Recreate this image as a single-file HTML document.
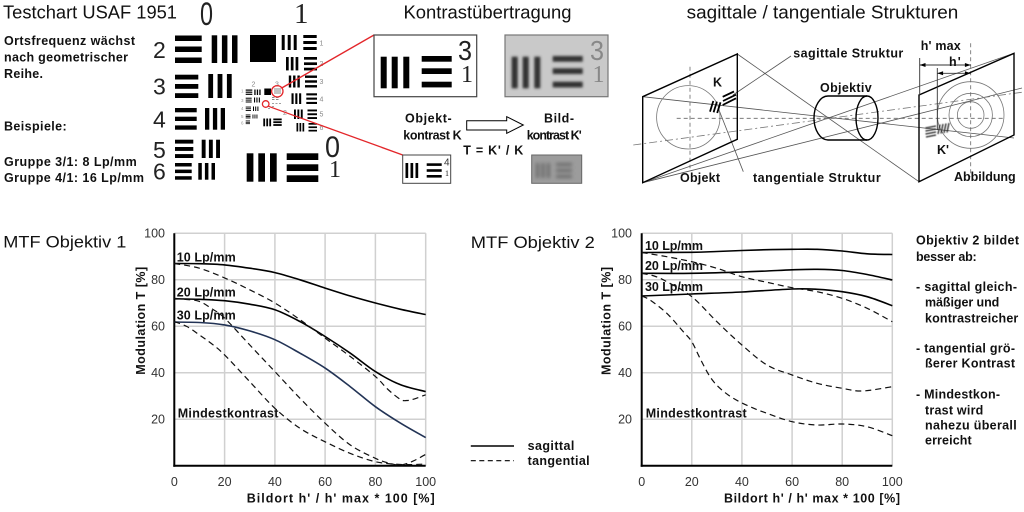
<!DOCTYPE html>
<html><head><meta charset="utf-8"><style>
html,body{margin:0;padding:0;background:#fff;}
svg{display:block;}
.b{font-family:"Liberation Sans",sans-serif;font-weight:bold;font-size:12.5px;fill:#111;}
.t{font-family:"Liberation Sans",sans-serif;font-size:18px;fill:#111;}
.n{font-family:"Liberation Sans",sans-serif;font-size:12.5px;fill:#333;}
.d{font-family:"Liberation Sans",sans-serif;font-size:23px;fill:#222;}
.s{font-family:"Liberation Serif",serif;fill:#222;}
</style></head><body>
<svg id="main" width="1024" height="512" viewBox="0 0 1024 512" xmlns="http://www.w3.org/2000/svg">
<defs>
<filter id="bl" x="-20%" y="-20%" width="140%" height="140%"><feGaussianBlur stdDeviation="1.3"/></filter>
<filter id="bl2" x="-20%" y="-20%" width="140%" height="140%"><feGaussianBlur stdDeviation="1.8"/></filter>
<filter id="bl3" x="-20%" y="-20%" width="140%" height="140%"><feGaussianBlur stdDeviation="0.5"/></filter>
</defs>
<rect width="1024" height="512" fill="#fff"/>

<!-- ============ TOP LEFT: USAF ============ -->
<text class="t" x="3" y="18.5" textLength="174" lengthAdjust="spacingAndGlyphs">Testchart USAF 1951</text>
<text class="b" x="4" y="45" textLength="131">Ortsfrequenz wächst</text>
<text class="b" x="4" y="61.5" textLength="124">nach geometrischer</text>
<text class="b" x="4" y="78" textLength="39">Reihe.</text>
<text class="b" x="4" y="130.5" textLength="62.7">Beispiele:</text>
<text class="b" x="4" y="166" textLength="132.7">Gruppe 3/1: 8 Lp/mm</text>
<text class="b" x="4" y="182" textLength="140">Gruppe 4/1: 16 Lp/mm</text>

<text x="200" y="25" font-family="Liberation Sans" font-size="32" fill="#222" textLength="13" lengthAdjust="spacingAndGlyphs">0</text>
<text class="s" x="294" y="23" font-size="29">1</text>

<text class="d" x="153" y="58">2</text>
<text class="d" x="153" y="94.7">3</text>
<text class="d" x="153" y="127.3">4</text>
<text class="d" x="153" y="158">5</text>
<text class="d" x="153" y="179.7">6</text>

<g fill="#000">
<rect x="175" y="35.5" width="26.7" height="5.5"/><rect x="175" y="46.5" width="26.7" height="5.5"/><rect x="175" y="57.5" width="26.7" height="5.5"/>
<rect x="211.7" y="35.3" width="5.5" height="27.7"/><rect x="221.9" y="35.3" width="5.5" height="27.7"/><rect x="232" y="35.3" width="5.5" height="27.7"/>
<rect x="250" y="35" width="26" height="27"/>
<rect x="175" y="74.7" width="23.3" height="4.8"/><rect x="175" y="84" width="23.3" height="4.8"/><rect x="175" y="93.2" width="23.3" height="4.8"/>
<rect x="208.3" y="74" width="4.8" height="24"/><rect x="217.6" y="74" width="4.8" height="24"/><rect x="226.9" y="74" width="4.8" height="24"/>
<rect x="175" y="108" width="21.7" height="4.3"/><rect x="175" y="116.7" width="21.7" height="4.3"/><rect x="175" y="125.4" width="21.7" height="4.3"/>
<rect x="205" y="108" width="4.3" height="21.7"/><rect x="212.9" y="108" width="4.3" height="21.7"/><rect x="220.7" y="108" width="4.3" height="21.7"/>
<rect x="175" y="139.7" width="18.3" height="3.9"/><rect x="175" y="147" width="18.3" height="3.9"/><rect x="175" y="154.1" width="18.3" height="3.9"/>
<rect x="201.7" y="139.7" width="3.9" height="18.3"/><rect x="208.9" y="139.7" width="3.9" height="18.3"/><rect x="216.1" y="139.7" width="3.9" height="18.3"/>
<rect x="175" y="163" width="16.7" height="3.5"/><rect x="175" y="169.6" width="16.7" height="3.5"/><rect x="175" y="176.2" width="16.7" height="3.5"/>
<rect x="198.3" y="163" width="3.5" height="16.7"/><rect x="204.9" y="163" width="3.5" height="16.7"/><rect x="211.5" y="163" width="3.5" height="16.7"/>
<rect x="246.7" y="153.3" width="6.7" height="28.4"/><rect x="258.3" y="153.3" width="6.7" height="28.4"/><rect x="270" y="153.3" width="6.7" height="28.4"/>
<rect x="286.7" y="153.3" width="31.6" height="6.7"/><rect x="286.7" y="164.3" width="31.6" height="6.7"/><rect x="286.7" y="175.3" width="31.6" height="6.7"/>
<rect x="281.7" y="35" width="3" height="15"/><rect x="287.7" y="35" width="3" height="15"/><rect x="293.7" y="35" width="3" height="15"/>
<rect x="303.3" y="35" width="13.4" height="3"/><rect x="303.3" y="41" width="13.4" height="3"/><rect x="303.3" y="47" width="13.4" height="3"/>
<rect x="286" y="57" width="2.7" height="13.4"/><rect x="290.8" y="57" width="2.7" height="13.4"/><rect x="295.6" y="57" width="2.7" height="13.4"/>
<rect x="304" y="57" width="13" height="2.7"/><rect x="304" y="62.35" width="13" height="2.7"/><rect x="304" y="67.7" width="13" height="2.7"/>
<rect x="288.8" y="75.5" width="2.4" height="12"/><rect x="293.1" y="75.5" width="2.4" height="12"/><rect x="297.4" y="75.5" width="2.4" height="12"/>
<rect x="305" y="75.5" width="12" height="2.4"/><rect x="305" y="80.3" width="12" height="2.4"/><rect x="305" y="85.1" width="12" height="2.4"/>
<rect x="291.5" y="93.3" width="2.1" height="10.7"/><rect x="295.3" y="93.3" width="2.1" height="10.7"/><rect x="299.1" y="93.3" width="2.1" height="10.7"/>
<rect x="306.3" y="93.3" width="10.7" height="2.1"/><rect x="306.3" y="97.6" width="10.7" height="2.1"/><rect x="306.3" y="101.9" width="10.7" height="2.1"/>
<rect x="294" y="109.5" width="1.9" height="9.5"/><rect x="297.4" y="109.5" width="1.9" height="9.5"/><rect x="300.8" y="109.5" width="1.9" height="9.5"/>
<rect x="307.5" y="109.5" width="9.5" height="1.9"/><rect x="307.5" y="113.3" width="9.5" height="1.9"/><rect x="307.5" y="117.1" width="9.5" height="1.9"/>
<rect x="296.5" y="123" width="1.7" height="8.5"/><rect x="299.5" y="123" width="1.7" height="8.5"/><rect x="302.5" y="123" width="1.7" height="8.5"/>
<rect x="308.5" y="123" width="8.5" height="1.7"/><rect x="308.5" y="126.4" width="8.5" height="1.7"/><rect x="308.5" y="129.8" width="8.5" height="1.7"/>
<rect x="245.7" y="89.5" width="6.6" height="1.2"/><rect x="245.7" y="91.6" width="6.6" height="1.2"/><rect x="245.7" y="93.7" width="6.6" height="1.2"/>
<rect x="254.3" y="89.5" width="1.3" height="5.5"/><rect x="256.8" y="89.5" width="1.3" height="5.5"/><rect x="259.3" y="89.5" width="1.3" height="5.5"/>
<rect x="264.3" y="88.5" width="6.7" height="6.5"/>
<rect x="245.7" y="97.7" width="6" height="1"/><rect x="245.7" y="99.6" width="6" height="1"/><rect x="245.7" y="101.5" width="6" height="1"/>
<rect x="254" y="97.5" width="1.1" height="5"/><rect x="256.4" y="97.5" width="1.1" height="5"/><rect x="258.8" y="97.5" width="1.1" height="5"/>
<rect x="245.7" y="106.6" width="5.3" height="0.9"/><rect x="245.7" y="108.3" width="5.3" height="0.9"/><rect x="245.7" y="110" width="5.3" height="0.9"/>
<rect x="253" y="106.5" width="1" height="4.5"/><rect x="255.2" y="106.5" width="1" height="4.5"/><rect x="257.4" y="106.5" width="1" height="4.5"/>
<rect x="245.7" y="114.5" width="4.8" height="0.9"/><rect x="245.7" y="116" width="4.8" height="0.9"/><rect x="245.7" y="117.5" width="4.8" height="0.9"/>
<rect x="252.5" y="114.5" width="0.9" height="4"/><rect x="254.5" y="114.5" width="0.9" height="4"/><rect x="256.5" y="114.5" width="0.9" height="4"/>
<rect x="245.7" y="120.5" width="4.3" height="0.8"/><rect x="245.7" y="121.9" width="4.3" height="0.8"/><rect x="245.7" y="123.3" width="4.3" height="0.8"/>
<rect x="263.3" y="118.5" width="1.8" height="7.8"/><rect x="266.3" y="118.5" width="1.8" height="7.8"/><rect x="269.3" y="118.5" width="1.8" height="7.8"/>
<rect x="273.3" y="118.5" width="8.4" height="1.8"/><rect x="273.3" y="121.3" width="8.4" height="1.8"/><rect x="273.3" y="124.1" width="8.4" height="1.8"/>
</g>
<g fill="#888">
<rect x="274" y="88.5" width="7" height="1"/><rect x="274" y="90.5" width="7" height="1"/><rect x="274" y="92.5" width="7" height="1"/>
<rect x="272" y="97" width="2.5" height="1"/><rect x="276" y="97" width="2.5" height="1"/><rect x="272" y="99" width="2.5" height="1"/><rect x="276" y="99" width="2.5" height="1"/>
<rect x="272" y="103" width="2" height="0.8"/><rect x="275.5" y="103" width="2" height="0.8"/><rect x="272" y="106" width="2" height="0.8"/>
<rect x="279" y="103" width="2" height="0.8"/><rect x="268" y="108" width="2" height="0.8"/>
</g>
<g font-family="Liberation Sans" font-size="7" fill="#888">
<text x="319.5" y="45.5">1</text><text x="319.5" y="66">2</text><text x="319.5" y="84">3</text>
<text x="319.5" y="101.5">4</text><text x="319.5" y="116.5">5</text><text x="319.5" y="130">6</text>
<text x="251.5" y="86.5">2</text><text x="275" y="86.5">3</text><text x="283" y="115">2</text>
</g>
<g font-family="Liberation Sans" font-size="4.5" fill="#999">
<text x="241" y="92.5">1</text><text x="241" y="102">3</text><text x="241" y="110">4</text><text x="241" y="118">5</text><text x="241" y="124.5">6</text>
</g>
<text x="325" y="157" font-family="Liberation Sans" font-size="30" fill="#222" textLength="15" lengthAdjust="spacingAndGlyphs">0</text>
<text class="s" x="329" y="177" font-size="24">1</text>

<g stroke="#e3262a" stroke-width="1.3" fill="none">
<circle cx="277.3" cy="91.3" r="5.7"/>
<circle cx="265.7" cy="104" r="3.3"/>
<line x1="281.7" y1="88" x2="374" y2="35"/>
<line x1="268.5" y1="106.3" x2="402.7" y2="155"/>
</g>

<!-- ============ MIDDLE ============ -->
<text class="t" x="403.5" y="18.3" textLength="168" lengthAdjust="spacingAndGlyphs">Kontrastübertragung</text>
<rect x="374" y="35" width="102.7" height="61.7" fill="#fff" stroke="#444" stroke-width="1.2"/>
<g fill="#000">
<rect x="380.7" y="56.7" width="6" height="31.6"/><rect x="391.7" y="56.7" width="6" height="31.6"/><rect x="403.3" y="56.7" width="6" height="31.6"/>
<rect x="421.7" y="56" width="30" height="5.7"/><rect x="421.7" y="68.3" width="30" height="5.7"/><rect x="421.7" y="81.7" width="30" height="5.7"/>
</g>
<text x="458" y="60" font-family="Liberation Sans" font-size="28" fill="#222" textLength="14" lengthAdjust="spacingAndGlyphs">3</text>
<text class="s" x="461" y="82" font-size="24">1</text>

<rect x="505" y="35" width="103" height="61.7" fill="#c9c9c9" stroke="#777" stroke-width="1.2"/>
<g fill="#333" filter="url(#bl)">
<rect x="511.7" y="56.7" width="6" height="31.6"/><rect x="522.7" y="56.7" width="6" height="31.6"/><rect x="534.3" y="56.7" width="6" height="31.6"/>
<rect x="552.7" y="56" width="30" height="5.7"/><rect x="552.7" y="68.3" width="30" height="5.7"/><rect x="552.7" y="81.7" width="30" height="5.7"/>
</g>
<text x="590" y="60" font-family="Liberation Sans" font-size="28" fill="#888" textLength="14" lengthAdjust="spacingAndGlyphs">3</text>
<text class="s" x="592.5" y="82" font-size="24" style="fill:#888">1</text>

<text class="b" x="405" y="122.5" textLength="46.7">Objekt-</text>
<text class="b" x="403.3" y="139.5" textLength="58.3">kontrast K</text>
<polygon points="466.7,120.7 506.7,120.7 506.7,116.7 523.3,125 506.7,133.3 506.7,130 466.7,130" fill="#fff" stroke="#000" stroke-width="1"/>
<text class="b" x="544" y="122.5" textLength="30">Bild-</text>
<text class="b" x="526.7" y="139.5" textLength="55">kontrast K'</text>
<text class="b" x="463.3" y="154.5" textLength="60">T = K' / K</text>

<rect x="402.7" y="155" width="48" height="28.3" fill="#fff" stroke="#444" stroke-width="1"/>
<g fill="#000">
<rect x="405.5" y="163" width="2.7" height="15"/><rect x="410.5" y="163" width="2.7" height="15"/><rect x="415.5" y="163" width="2.7" height="15"/>
<rect x="426.7" y="163.3" width="15" height="2.6"/><rect x="426.7" y="169.2" width="15" height="2.6"/><rect x="426.7" y="175" width="15" height="2.6"/>
</g>
<text x="444" y="165.5" font-family="Liberation Sans" font-size="10" fill="#333">4</text>
<text class="s" x="445" y="176" font-size="8">1</text>
<rect x="531.7" y="155" width="50" height="28.3" fill="#9c9c9c" stroke="#666" stroke-width="1"/>
<g fill="#6a6a6a" filter="url(#bl2)">
<rect x="536" y="163" width="3" height="15"/><rect x="541.5" y="163" width="3" height="15"/><rect x="547" y="163" width="3" height="15"/>
<rect x="556" y="163" width="16" height="3"/><rect x="556" y="169" width="16" height="3"/><rect x="556" y="175" width="16" height="3"/>
</g>

<!-- ============ RIGHT DIAGRAM ============ -->
<text class="t" x="686.7" y="18.3" textLength="271.6" lengthAdjust="spacingAndGlyphs">sagittale / tangentiale Strukturen</text>
<g stroke="#555" stroke-width="0.8" fill="none">
<line x1="737.3" y1="54" x2="919" y2="181.7"/>
<line x1="642.7" y1="96.7" x2="1014" y2="138"/>
<line x1="642.7" y1="182.7" x2="1014" y2="53.3"/>
<line x1="642.7" y1="182.7" x2="1022" y2="88"/>
<line x1="733" y1="95" x2="791" y2="56"/>
<line x1="719" y1="110" x2="743.3" y2="171.7"/>
</g>
<g stroke="#777" stroke-width="0.8" fill="none">
<circle cx="688.3" cy="117.3" r="31.7"/>
<circle cx="970.7" cy="115" r="33.3"/>
<circle cx="970.7" cy="115" r="21.7"/>
<circle cx="970.7" cy="115" r="13.3"/>
</g>
<g stroke="#666" stroke-width="0.8" fill="none" stroke-dasharray="4,3">
<line x1="690" y1="66.7" x2="690" y2="168.3"/>
<line x1="676.7" y1="118.3" x2="1004" y2="118.3"/>
<line x1="970.7" y1="43.3" x2="970.7" y2="176.7"/>
</g>
<line x1="633.3" y1="145" x2="1024" y2="92" stroke="#777" stroke-width="0.8" stroke-dasharray="8,3,2,3"/>
<polygon points="642.7,96.7 737.3,54 737.3,139.3 642.7,182.7" fill="none" stroke="#000" stroke-width="1.4"/>
<polygon points="919,95 1014,53.3 1014,135 919,181.7" fill="none" stroke="#000" stroke-width="1.4"/>
<g stroke="#000" stroke-width="1.4" fill="none">
<line x1="828" y1="96" x2="867" y2="96"/>
<line x1="828" y1="140" x2="867" y2="140"/>
<path d="M828,96 A14,22 0 0 0 828,140"/>
<ellipse cx="867" cy="118" rx="11" ry="22"/>
</g>
<text class="b" x="820" y="92" textLength="51.7">Objektiv</text>
<g stroke="#000" stroke-width="1.8">
<line x1="710" y1="111.7" x2="713.3" y2="101"/>
<line x1="713.6" y1="112.3" x2="716.9" y2="101.6"/>
<line x1="717.2" y1="113" x2="720.5" y2="102.3"/>
<line x1="722.7" y1="105" x2="736" y2="98.3"/>
<line x1="723" y1="101" x2="736" y2="94.7"/>
<line x1="722.7" y1="96.8" x2="734" y2="91.5"/>
</g>
<text class="b" x="713" y="86.7" font-size="13">K</text>
<g stroke="#222" stroke-width="1.3" filter="url(#bl3)">
<line x1="925.5" y1="128" x2="936" y2="126"/>
<line x1="925.5" y1="131" x2="936" y2="129"/>
<line x1="925.5" y1="134" x2="936" y2="132"/>
<line x1="926" y1="137" x2="936" y2="135"/>
<line x1="938" y1="134" x2="940" y2="124.5"/>
<line x1="941" y1="133.5" x2="943" y2="124"/>
<line x1="944" y1="133" x2="946" y2="123.5"/>
<line x1="947" y1="132.5" x2="949" y2="123"/>
</g>
<text class="b" x="937" y="154" textLength="12">K'</text>
<g stroke="#333" stroke-width="0.9" fill="none">
<line x1="919.7" y1="58" x2="919.7" y2="95"/>
<line x1="937.3" y1="68" x2="937.3" y2="130"/>
<line x1="919.7" y1="65" x2="970.7" y2="65"/>
<line x1="937.3" y1="73.3" x2="970.7" y2="73.3"/>
</g>
<g fill="#000">
<polygon points="919.7,65 925.5,63 925.5,67"/>
<polygon points="970.7,65 964.9,63 964.9,67"/>
<polygon points="937.3,73.3 943.1,71.3 943.1,75.3"/>
<polygon points="970.7,73.3 964.9,71.3 964.9,75.3"/>
</g>
<text class="b" x="920.7" y="50" textLength="40">h' max</text>
<text class="b" x="949" y="66" textLength="11.7">h'</text>
<text class="b" x="793.3" y="57.5" textLength="110">sagittale Struktur</text>
<text class="b" x="680" y="182" textLength="40">Objekt</text>
<text class="b" x="753" y="182" textLength="127.7">tangentiale Struktur</text>
<text class="b" x="954" y="181" textLength="61.7">Abbildung</text>

<!-- ============ MTF 1 ============ -->
<text x="3.3" y="247.3" font-family="Liberation Sans" font-size="16.5" fill="#111" textLength="123" lengthAdjust="spacingAndGlyphs">MTF Objektiv 1</text>
<g stroke="#d0d0d0" stroke-width="1.5">
<line x1="224.6" y1="233.3" x2="224.6" y2="465.7"/><line x1="274.9" y1="233.3" x2="274.9" y2="465.7"/>
<line x1="325.1" y1="233.3" x2="325.1" y2="465.7"/><line x1="375.4" y1="233.3" x2="375.4" y2="465.7"/>
<line x1="425.7" y1="233.3" x2="425.7" y2="465.7"/>
<line x1="174.3" y1="233.3" x2="425.7" y2="233.3"/><line x1="174.3" y1="279.8" x2="425.7" y2="279.8"/>
<line x1="174.3" y1="326.3" x2="425.7" y2="326.3"/><line x1="174.3" y1="372.8" x2="425.7" y2="372.8"/>
<line x1="174.3" y1="419.2" x2="425.7" y2="419.2"/>
</g>
<g stroke="#000" stroke-width="2">
<line x1="174.3" y1="233.3" x2="174.3" y2="466.7"/>
<line x1="173.3" y1="465.7" x2="425.7" y2="465.7"/>
</g>
<g class="n" text-anchor="end">
<text x="165" y="237.6">100</text><text x="165" y="284.1">80</text><text x="165" y="330.6">60</text>
<text x="165" y="377.1">40</text><text x="165" y="423.5">20</text>
</g>
<g class="n" text-anchor="middle">
<text x="174.3" y="486">0</text><text x="224.6" y="486">20</text><text x="274.9" y="486">40</text>
<text x="325.1" y="486">60</text><text x="375.4" y="486">80</text><text x="425.7" y="486">100</text>
</g>
<text class="b" x="246.7" y="502.5" textLength="188">Bildort h' / h' max * 100 [%]</text>
<text class="b" transform="translate(145,320.8) rotate(-90)" text-anchor="middle" x="0" y="0" textLength="108">Modulation T [%]</text>

<g fill="none" stroke-linejoin="round">
<polyline class="sm" stroke="#000" stroke-width="1.6" points="174.3,263.5 199.4,263.7 224.6,264.9 249.7,268.2 274.9,272.6 300,279.8 325.1,288.1 350.3,296 375.4,303 400.6,309.3 425.7,314.6"/>
<polyline class="sm" stroke="#000" stroke-width="1.6" points="174.3,298.8 199.4,299.3 224.6,300.7 249.7,304.2 274.9,309.8 300,321.6 325.1,336.5 350.3,353.2 375.4,371.6 400.6,384.8 425.7,391.6"/>
<polyline class="sm" stroke="#223355" stroke-width="1.6" points="174.3,322.1 199.4,322.5 224.6,324.9 249.7,330.9 274.9,339.7 300,353.2 325.1,368.1 350.3,386.7 375.4,406.7 400.6,423.2 425.7,437.6"/>
<g stroke="#111" stroke-width="1.2" stroke-dasharray="6,4">
<polyline class="sm" points="174.3,263.5 199.4,268.2 224.6,277.9 249.7,289.8 274.9,303 300,319.7 325.1,338.1 350.3,356.5 375.4,376.5 388,389.5 400.6,399.5 406.9,400.5 413.1,399.3 425.7,394.8"/>
<polyline class="sm" points="174.3,298.4 186.9,299.5 199.4,301.4 212,308.8 224.6,318.1 249.7,344.9 274.9,371.6 300,398.3 325.1,423.2 350.3,445 375.4,458.3 388,462.9 400.6,465 413.1,461.1 425.7,454.3"/>
<polyline class="sm" points="174.3,321.6 186.9,326.5 199.4,334.9 212,344 224.6,354.9 249.7,381.6 274.9,408.3 300,428.3 325.1,441.8 350.3,453.4 375.4,461.7 400.6,464.5 425.7,464.1"/>
</g>
</g>
<text class="b" x="176.7" y="261.5" textLength="59">10 Lp/mm</text>
<text class="b" x="176.7" y="296.5" textLength="59">20 Lp/mm</text>
<text class="b" x="176.7" y="319.3" textLength="59">30 Lp/mm</text>
<text class="b" x="177.7" y="417.5" textLength="100.7">Mindestkontrast</text>

<!-- ============ MTF 2 ============ -->
<text x="470.8" y="248" font-family="Liberation Sans" font-size="16.5" fill="#111" textLength="124" lengthAdjust="spacingAndGlyphs">MTF Objektiv 2</text>
<g stroke="#d0d0d0" stroke-width="1.5">
<line x1="691.8" y1="233.3" x2="691.8" y2="465.7"/><line x1="741.9" y1="233.3" x2="741.9" y2="465.7"/>
<line x1="792.1" y1="233.3" x2="792.1" y2="465.7"/><line x1="842.2" y1="233.3" x2="842.2" y2="465.7"/>
<line x1="892.3" y1="233.3" x2="892.3" y2="465.7"/>
<line x1="641.7" y1="233.3" x2="892.3" y2="233.3"/><line x1="641.7" y1="279.8" x2="892.3" y2="279.8"/>
<line x1="641.7" y1="326.3" x2="892.3" y2="326.3"/><line x1="641.7" y1="372.8" x2="892.3" y2="372.8"/>
<line x1="641.7" y1="419.2" x2="892.3" y2="419.2"/>
</g>
<g stroke="#000" stroke-width="2">
<line x1="641.7" y1="233.3" x2="641.7" y2="466.7"/>
<line x1="640.7" y1="465.7" x2="892.3" y2="465.7"/>
</g>
<g class="n" text-anchor="end">
<text x="632" y="237.6">100</text><text x="632" y="284.1">80</text><text x="632" y="330.6">60</text>
<text x="632" y="377.1">40</text><text x="632" y="423.5">20</text>
</g>
<g class="n" text-anchor="middle">
<text x="641.7" y="486">0</text><text x="691.8" y="486">20</text><text x="741.9" y="486">40</text>
<text x="792.1" y="486">60</text><text x="842.2" y="486">80</text><text x="892.3" y="486">100</text>
</g>
<text class="b" x="724" y="502.5" textLength="176">Bildort h' / h' max * 100 [%]</text>
<text class="b" transform="translate(610.7,321) rotate(-90)" text-anchor="middle" x="0" y="0" textLength="108">Modulation T [%]</text>

<g fill="none" stroke-linejoin="round">
<g stroke="#000" stroke-width="1.6">
<polyline class="sm" points="641.7,252.5 691.8,252.3 716.9,251.5 741.9,250.5 767,249.7 792.1,249.3 817.1,249.3 842.2,251 867.2,253.8 892.3,254.5"/>
<polyline class="sm" points="641.7,273.3 691.8,273.3 741.9,272 767,271 792.1,269.8 817.1,269.3 842.2,270.5 867.2,274.5 892.3,280"/>
<polyline class="sm" points="641.7,296 691.8,294 741.9,292 792.1,289 817.1,289.3 842.2,291.7 867.2,296.7 892.3,305.7"/>
</g>
<g stroke="#111" stroke-width="1.2" stroke-dasharray="6,4">
<polyline class="sm" points="641.7,252.5 666.8,256.7 691.8,261.7 716.9,268.3 741.9,276.7 767,282.3 792.1,287.7 817.1,291.7 842.2,298.3 867.2,308.3 892.3,321.7"/>
<polyline class="sm" points="641.7,273.3 654.2,276 666.8,281.7 691.8,296.7 716.9,321.7 741.9,345 767,365 792.1,375 817.1,383.3 842.2,388.3 862.2,391 892.3,386.7"/>
<polyline class="sm" points="641.7,296 650,300 666.8,313.3 683.3,331.7 691.8,341.7 700,358.3 710,376.7 720,388.3 733.3,398.3 750,406.7 767,413.3 792.1,421.7 817,425 842.2,424 867,426.7 892.3,435.7"/>
</g>
</g>
<text class="b" x="645" y="250" textLength="58">10 Lp/mm</text>
<text class="b" x="645" y="270" textLength="58">20 Lp/mm</text>
<text class="b" x="645" y="291" textLength="58">30 Lp/mm</text>
<text class="b" x="645.7" y="417.5" textLength="101">Mindestkontrast</text>

<line x1="470.8" y1="446" x2="514" y2="446" stroke="#000" stroke-width="1.4"/>
<line x1="470.8" y1="460.7" x2="514" y2="460.7" stroke="#000" stroke-width="1.2" stroke-dasharray="5,3.5"/>
<text class="b" x="527.6" y="450" textLength="46.8">sagittal</text>
<text class="b" x="527.6" y="465" textLength="62">tangential</text>

<text class="b" x="916" y="244.5" textLength="103">Objektiv 2 bildet</text>
<text class="b" x="916" y="261" textLength="60.7">besser ab:</text>
<text class="b" x="916" y="291" textLength="101">- sagittal gleich-</text>
<text class="b" x="925" y="306.5" textLength="74.3">mäßiger und</text>
<text class="b" x="925" y="322.5" textLength="93.3">kontrastreicher</text>
<text class="b" x="916" y="352.5" textLength="99">- tangential grö-</text>
<text class="b" x="925" y="367.5" textLength="90">ßerer Kontrast</text>
<text class="b" x="916" y="398.5" textLength="84">- Mindestkon-</text>
<text class="b" x="925" y="414.5" textLength="58.3">trast wird</text>
<text class="b" x="925" y="429.5" textLength="91.7">nahezu überall</text>
<text class="b" x="925" y="444.5" textLength="46.7">erreicht</text>
</svg>
<script>
(function(){
  var NS="http://www.w3.org/2000/svg";
  var pls=document.querySelectorAll("polyline.sm");
  for(var i=0;i<pls.length;i++){
    var pl=pls[i];
    var raw=pl.getAttribute("points").trim().split(/\s+/);
    var p=raw.map(function(s){var a=s.split(",");return [parseFloat(a[0]),parseFloat(a[1])];});
    if(p.length<3) continue;
    var d="M"+p[0][0]+","+p[0][1];
    for(var k=0;k<p.length-1;k++){
      var p0=p[k-1]||p[k], p1=p[k], p2=p[k+1], p3=p[k+2]||p[k+1];
      var c1x=p1[0]+(p2[0]-p0[0])/6, c1y=p1[1]+(p2[1]-p0[1])/6;
      var c2x=p2[0]-(p3[0]-p1[0])/6, c2y=p2[1]-(p3[1]-p1[1])/6;
      d+=" C"+c1x.toFixed(2)+","+c1y.toFixed(2)+" "+c2x.toFixed(2)+","+c2y.toFixed(2)+" "+p2[0]+","+p2[1];
    }
    var path=document.createElementNS(NS,"path");
    for(var j=0;j<pl.attributes.length;j++){
      var at=pl.attributes[j];
      if(at.name!=="points"&&at.name!=="class") path.setAttribute(at.name,at.value);
    }
    path.setAttribute("d",d);
    pl.parentNode.replaceChild(path,pl);
  }
})();
</script>
</body></html>
